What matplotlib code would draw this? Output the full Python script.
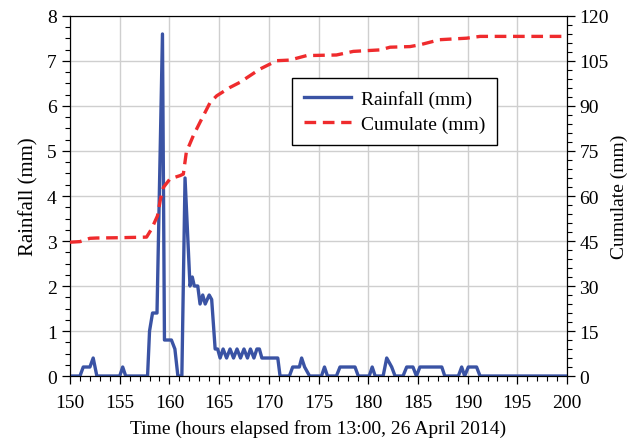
import matplotlib
matplotlib.use("Agg")
import matplotlib.pyplot as plt
from matplotlib.ticker import MultipleLocator

plt.rcParams['font.family'] = ['Liberation Serif', 'DejaVu Serif']

# Rainfall (mm) vertices
rain_t = [150.0, 151.0, 151.33, 152.0, 152.33, 152.7, 155.0, 155.3, 155.6,
          157.8, 158.0, 158.3, 158.75, 159.3, 159.5, 160.2, 160.55, 160.85,
          161.25, 161.57, 162.07, 162.3, 162.5, 162.85, 163.08, 163.35, 163.6,
          164.0, 164.25, 164.6, 164.85, 165.1, 165.4, 165.75, 166.1, 166.45,
          166.8, 167.15, 167.5, 167.85, 168.15, 168.5, 168.8, 169.05, 169.3,
          170.9, 171.13, 172.07, 172.4, 173.07, 173.3, 173.6, 174.1, 175.3,
          175.6, 175.9, 176.8, 177.16, 178.67, 179.0, 180.1, 180.4, 180.7,
          181.5, 181.86, 182.36, 182.7, 183.5, 183.87, 184.5, 184.85, 185.2,
          187.4, 187.7, 189.07, 189.4, 189.7, 190.07, 190.9, 191.25, 200.0]
rain_v = [0.0, 0.0, 0.2, 0.2, 0.4, 0.0, 0.0, 0.2, 0.0,
          0.0, 1.0, 1.4, 1.4, 7.6, 0.8, 0.8, 0.6, 0.0,
          0.0, 4.4, 2.0, 2.2, 2.0, 2.0, 1.6, 1.8, 1.6,
          1.8, 1.7, 0.6, 0.6, 0.4, 0.6, 0.4, 0.6, 0.4,
          0.6, 0.4, 0.6, 0.4, 0.6, 0.4, 0.6, 0.6, 0.4,
          0.4, 0.0, 0.0, 0.2, 0.2, 0.4, 0.2, 0.0, 0.0,
          0.2, 0.0, 0.0, 0.2, 0.2, 0.0, 0.0, 0.2, 0.0,
          0.0, 0.4, 0.2, 0.0, 0.0, 0.2, 0.2, 0.0, 0.2,
          0.2, 0.0, 0.0, 0.2, 0.0, 0.2, 0.2, 0.0, 0.0]

# Cumulative rainfall (mm)
cum_t = [150.0, 151.0, 152.0, 152.7, 155.0, 157.7, 158.2, 158.8, 159.1,
         159.4, 160.06, 161.07, 161.4, 161.7, 162.4, 163.08, 164.1, 164.76,
         166.1, 167.1, 169.1, 170.8, 172.1, 173.8, 176.8, 178.5, 181.2,
         182.2, 184.2, 185.2, 187.2, 189.9, 191.25, 200.0]
cum_v = [44.6, 44.8, 45.9, 46.0, 46.1, 46.3, 49.0, 53.4, 59.0,
         62.9, 65.7, 66.8, 67.3, 74.6, 80.1, 84.6, 91.2, 93.4,
         96.2, 97.9, 102.3, 105.1, 105.3, 106.8, 107.0, 108.2, 108.7,
         109.6, 109.8, 110.4, 112.1, 112.6, 113.2, 113.2]

blue = '#3A53A4'
red = '#EF2B2D'

fig = plt.figure(figsize=(6.32, 4.39), dpi=100)
ax = fig.add_axes([0.1108, 0.1412, 0.7864, 0.8201])
ax2 = ax.twinx()

ax.grid(True, which='major', color='#CFCFCF', linewidth=1.0, zorder=0)
ax.set_axisbelow(True)

l1, = ax.plot(rain_t, rain_v, color=blue, linewidth=2.4, label='Rainfall (mm)', zorder=3)
l2, = ax2.plot(cum_t, cum_v, color=red, linewidth=2.4, linestyle=(0, (3.5, 2.0)),
               label='Cumulate (mm)', zorder=3)

ax.set_xlim(150, 200)
ax.set_ylim(0, 8)
ax2.set_ylim(0, 120)

ax.xaxis.set_major_locator(MultipleLocator(5))
ax.xaxis.set_minor_locator(MultipleLocator(1))
ax.yaxis.set_major_locator(MultipleLocator(1))
ax.yaxis.set_minor_locator(MultipleLocator(0.25))
ax2.yaxis.set_major_locator(MultipleLocator(15))
ax2.yaxis.set_minor_locator(MultipleLocator(3))

for a in (ax, ax2):
    a.tick_params(which='major', direction='out', length=6, width=0.9, labelsize=14)
    a.tick_params(which='minor', direction='out', length=3.5, width=0.8)
ax.tick_params(axis='x', which='major', pad=7)
ax2.tick_params(axis='y', which='major', pad=3)

ax.set_xlabel('Time (hours elapsed from 13:00, 26 April 2014)', fontsize=14, labelpad=6)
ax.set_ylabel('Rainfall (mm)', fontsize=15, labelpad=6)
ax2.set_ylabel('Cumulate (mm)', fontsize=14, labelpad=1)

leg = ax.legend(handles=[l1, l2], loc='upper left', bbox_to_anchor=(0.4467, 0.8278),
                borderaxespad=0, fontsize=14, frameon=True, fancybox=False,
                edgecolor='black', framealpha=1.0, borderpad=0.6,
                handlelength=2.45, handletextpad=0.5, labelspacing=0.4)
leg.get_frame().set_linewidth(1.0)
leg.set_zorder(10)

fig.savefig('out.png', dpi=100)
